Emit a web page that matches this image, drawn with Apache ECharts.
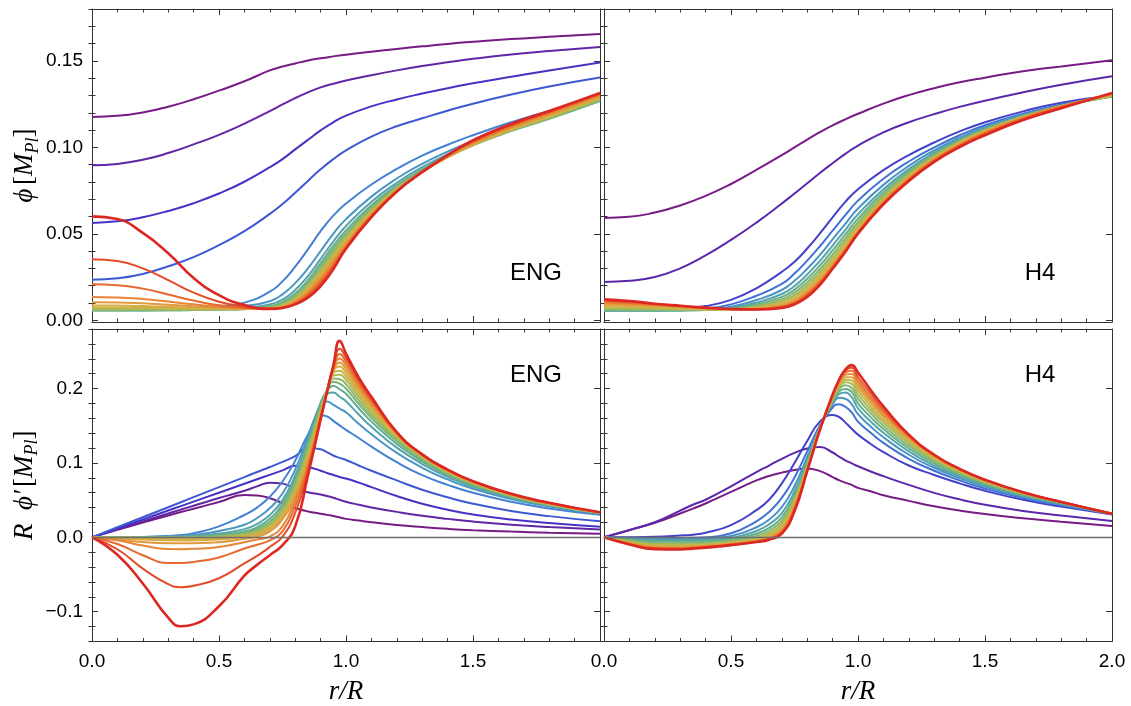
<!DOCTYPE html>
<html>
<head>
<meta charset="utf-8">
<script src="https://cdn.jsdelivr.net/npm/echarts@6/dist/echarts.min.js"></script>
<style>
html,body{margin:0;padding:0;background:#fff}
#c{width:1131px;height:706px}
</style>
</head>
<body>
<div id="c"></div>
<script>
// radial sample points r/R for the field (top) and gradient (bottom) profiles
const rTop = [0, 0.1, 0.2, 0.3, 0.4, 0.5, 0.6, 0.7, 0.75, 0.8, 0.85, 0.9, 0.95, 1.0, 1.1, 1.2, 1.3, 1.4, 1.5, 1.65, 1.8, 2.0];
const rBottom = [0, 0.1, 0.2, 0.3, 0.35, 0.4, 0.5, 0.6, 0.65, 0.7, 0.75, 0.8, 0.85, 0.9, 0.925, 0.95, 0.975, 1.0, 1.05, 1.1, 1.2, 1.3, 1.4, 1.5, 1.65, 1.8, 2.0];

// ENG: phi [M_Pl], one row per profile (purple -> red)
const phiENG = [
  [0.1176, 0.1182, 0.1202, 0.1235, 0.1278, 0.1328, 0.1382, 0.1445, 0.1467, 0.1485, 0.1502, 0.1515, 0.1526, 0.1536, 0.1553, 0.1569, 0.1584, 0.1598, 0.161, 0.1626, 0.1639, 0.1656],
  [0.0896, 0.0904, 0.0928, 0.0967, 0.1017, 0.1072, 0.1137, 0.121, 0.1248, 0.1285, 0.1318, 0.1347, 0.1368, 0.1386, 0.1417, 0.1445, 0.147, 0.1492, 0.1512, 0.1537, 0.1557, 0.158],
  [0.0563, 0.0572, 0.0596, 0.0632, 0.0677, 0.0733, 0.0801, 0.0885, 0.0932, 0.0988, 0.1043, 0.1098, 0.1145, 0.1183, 0.1237, 0.1277, 0.1311, 0.1342, 0.137, 0.1408, 0.1445, 0.149],
  [0.0235, 0.0243, 0.0268, 0.0312, 0.0365, 0.0434, 0.0515, 0.0615, 0.0672, 0.0738, 0.0806, 0.0873, 0.0932, 0.0983, 0.1062, 0.1122, 0.1168, 0.1212, 0.1252, 0.1305, 0.1352, 0.1404],
  [0.0066, 0.0066, 0.0067, 0.0069, 0.0073, 0.0081, 0.0102, 0.0165, 0.0225, 0.031, 0.041, 0.0515, 0.0605, 0.0675, 0.0785, 0.0875, 0.0952, 0.1015, 0.107, 0.1145, 0.121, 0.1285],
  [0.0060, 0.0060, 0.0061, 0.0062, 0.0065, 0.0071, 0.0083, 0.0110, 0.0150, 0.0215, 0.030, 0.040, 0.050, 0.0585, 0.0715, 0.0820, 0.0905, 0.0975, 0.1035, 0.111, 0.1175, 0.1275],
  [0.0058, 0.0058, 0.0058, 0.0059, 0.0061, 0.0065, 0.0073, 0.0092, 0.0120, 0.0175, 0.0255, 0.0355, 0.0455, 0.0545, 0.0685, 0.0795, 0.0885, 0.096, 0.1022, 0.110, 0.1168, 0.127],
  [0.0057, 0.0057, 0.0057, 0.0058, 0.0059, 0.0062, 0.0067, 0.0082, 0.0105, 0.0155, 0.0232, 0.033, 0.043, 0.052, 0.0665, 0.078, 0.0872, 0.095, 0.1015, 0.1095, 0.1165, 0.1268],
  [0.0058, 0.0058, 0.0058, 0.0058, 0.0059, 0.0061, 0.0065, 0.0077, 0.0097, 0.0143, 0.0217, 0.0312, 0.0412, 0.0503, 0.0652, 0.0772, 0.0866, 0.0946, 0.1013, 0.1095, 0.1166, 0.127],
  [0.0061, 0.0061, 0.0061, 0.0061, 0.0061, 0.0062, 0.0064, 0.0074, 0.0091, 0.0134, 0.0205, 0.0298, 0.0397, 0.049, 0.0642, 0.0766, 0.0862, 0.0944, 0.1012, 0.1097, 0.1169, 0.1274],
  [0.0066, 0.0066, 0.0065, 0.0064, 0.0064, 0.0064, 0.0065, 0.0072, 0.0087, 0.0127, 0.0195, 0.0285, 0.0383, 0.0477, 0.0634, 0.076, 0.0859, 0.0943, 0.1013, 0.11, 0.1173, 0.1279],
  [0.0074, 0.0074, 0.0072, 0.007, 0.0068, 0.0066, 0.0066, 0.007, 0.0083, 0.012, 0.0185, 0.0273, 0.037, 0.0465, 0.0626, 0.0756, 0.0857, 0.0943, 0.1015, 0.1103, 0.1178, 0.1284],
  [0.0086, 0.0085, 0.0082, 0.0078, 0.0073, 0.0069, 0.0067, 0.0069, 0.008, 0.0114, 0.0176, 0.0262, 0.0358, 0.0454, 0.0619, 0.0752, 0.0856, 0.0944, 0.1018, 0.1107, 0.1183, 0.129],
  [0.0104, 0.0103, 0.0098, 0.009, 0.0081, 0.0073, 0.0068, 0.0068, 0.0077, 0.0108, 0.0167, 0.025, 0.0345, 0.0443, 0.0613, 0.075, 0.0856, 0.0946, 0.1022, 0.1113, 0.119, 0.1296],
  [0.0134, 0.0132, 0.0123, 0.0108, 0.0092, 0.0078, 0.0069, 0.0067, 0.0075, 0.0103, 0.0158, 0.0237, 0.0331, 0.0432, 0.0607, 0.0748, 0.0856, 0.0949, 0.1027, 0.1119, 0.1196, 0.1302],
  [0.0208, 0.0203, 0.0183, 0.0149, 0.0114, 0.0087, 0.0072, 0.0066, 0.0073, 0.0098, 0.0148, 0.0223, 0.0318, 0.0423, 0.0602, 0.0746, 0.0857, 0.0951, 0.1032, 0.1125, 0.1202, 0.1307],
  [0.0353, 0.0343, 0.030, 0.0232, 0.016, 0.0107, 0.0079, 0.0066, 0.0072, 0.0095, 0.0139, 0.021, 0.0306, 0.0418, 0.0599, 0.0745, 0.0857, 0.0953, 0.1037, 0.113, 0.1206, 0.1311],
  [0.0601, 0.0585, 0.0505, 0.0388, 0.0245, 0.0145, 0.0088, 0.0066, 0.0071, 0.0092, 0.013, 0.0197, 0.0295, 0.0414, 0.0597, 0.0745, 0.0858, 0.0955, 0.1041, 0.1135, 0.121, 0.1315]
];

// ENG: R phi' [M_Pl]
const dphiENG = [
  [0, 0.0100, 0.0198, 0.0293, 0.0340, 0.0385, 0.0475, 0.0568, 0.0562, 0.0525, 0.0460, 0.0395, 0.0348, 0.0318, 0.0302, 0.0287, 0.0267, 0.0248, 0.0225, 0.0203, 0.0166, 0.0138, 0.0114, 0.0096, 0.0077, 0.0063, 0.0049],
  [0, 0.0107, 0.0214, 0.0320, 0.0373, 0.0425, 0.0528, 0.0625, 0.0685, 0.0735, 0.0722, 0.0655, 0.0605, 0.0575, 0.0555, 0.0533, 0.0505, 0.0478, 0.0438, 0.0402, 0.0342, 0.0290, 0.0248, 0.0212, 0.0170, 0.0138, 0.0104],
  [0, 0.012, 0.024, 0.036, 0.042, 0.048, 0.060, 0.072, 0.078, 0.084, 0.090, 0.0962, 0.0945, 0.0895, 0.0865, 0.0838, 0.0812, 0.079, 0.0735, 0.0675, 0.0555, 0.0452, 0.0372, 0.0308, 0.024, 0.0192, 0.0142],
  [0, 0.0135, 0.027, 0.0405, 0.0472, 0.054, 0.0675, 0.081, 0.0878, 0.0945, 0.1015, 0.109, 0.1205, 0.1185, 0.1145, 0.110, 0.1068, 0.104, 0.0965, 0.0895, 0.0765, 0.064, 0.0538, 0.0452, 0.0355, 0.0285, 0.0215],
  [0, 0.0002, 0.0006, 0.0018, 0.003, 0.0055, 0.0148, 0.030, 0.040, 0.0545, 0.075, 0.103, 0.138, 0.164, 0.1625, 0.1565, 0.1505, 0.1445, 0.1335, 0.122, 0.101, 0.0835, 0.0705, 0.0598, 0.0478, 0.0388, 0.0302],
  [0, 0.0001, 0.0004, 0.0011, 0.0018, 0.003, 0.0085, 0.017, 0.026, 0.039, 0.059, 0.091, 0.135, 0.178, 0.1825, 0.178, 0.173, 0.168, 0.1525, 0.1385, 0.1135, 0.0935, 0.0778, 0.0652, 0.0515, 0.0415, 0.0316],
  [0, 0.0001, 0.0003, 0.0007, 0.0011, 0.0018, 0.005, 0.011, 0.018, 0.030, 0.050, 0.083, 0.130, 0.181, 0.193, 0.1945, 0.189, 0.183, 0.165, 0.1485, 0.1205, 0.0985, 0.0812, 0.0678, 0.0532, 0.0426, 0.0321],
  [0, 0, 0.0001, 0.0004, 0.0007, 0.0011, 0.0033, 0.008, 0.0135, 0.025, 0.045, 0.078, 0.126, 0.178, 0.197, 0.2035, 0.199, 0.193, 0.1735, 0.1555, 0.1255, 0.1018, 0.0835, 0.0695, 0.0543, 0.0433, 0.0324],
  [0, 0, 0, 0.0001, 0.0003, 0.0005, 0.002, 0.006, 0.011, 0.021, 0.041, 0.074, 0.122, 0.175, 0.198, 0.209, 0.2065, 0.200, 0.1795, 0.1605, 0.129, 0.1043, 0.0852, 0.0708, 0.0551, 0.0438, 0.0326],
  [0, -0.0002, -0.0003, -0.0003, -0.0002, 0, 0.0012, 0.0045, 0.009, 0.018, 0.037, 0.070, 0.118, 0.172, 0.198, 0.2135, 0.2125, 0.206, 0.1845, 0.1645, 0.1318, 0.1062, 0.0866, 0.0718, 0.0557, 0.0442, 0.0328],
  [0, -0.0004, -0.0008, -0.001, -0.001, -0.0009, 0.0002, 0.003, 0.007, 0.0155, 0.034, 0.066, 0.114, 0.170, 0.1975, 0.2175, 0.2185, 0.2115, 0.189, 0.1685, 0.1343, 0.1077, 0.0877, 0.0726, 0.0562, 0.0446, 0.033],
  [0, -0.0008, -0.0016, -0.0021, -0.0022, -0.0021, -0.0012, 0.002, 0.0055, 0.0135, 0.031, 0.062, 0.110, 0.168, 0.197, 0.221, 0.224, 0.2165, 0.193, 0.172, 0.1362, 0.1088, 0.0886, 0.0732, 0.0567, 0.0449, 0.0331],
  [0, -0.0015, -0.003, -0.004, -0.0042, -0.0041, -0.003, 0.0005, 0.0035, 0.011, 0.028, 0.058, 0.106, 0.166, 0.1965, 0.2235, 0.2295, 0.2215, 0.197, 0.1755, 0.1378, 0.1097, 0.0893, 0.0738, 0.0572, 0.0453, 0.0332],
  [0, -0.003, -0.0062, -0.0079, -0.0081, -0.0079, -0.0065, -0.002, 0.001, 0.008, 0.0245, 0.054, 0.102, 0.164, 0.196, 0.2255, 0.235, 0.2265, 0.2005, 0.1785, 0.1388, 0.1103, 0.0898, 0.0743, 0.0576, 0.0456, 0.0333],
  [0, -0.004, -0.011, -0.0158, -0.016, -0.0155, -0.013, -0.0065, -0.003, 0.001, 0.015, 0.049, 0.097, 0.1625, 0.1955, 0.227, 0.2405, 0.2315, 0.2045, 0.1815, 0.1397, 0.1107, 0.0902, 0.0747, 0.0579, 0.0459, 0.0334],
  [0, -0.009, -0.024, -0.0345, -0.0345, -0.033, -0.027, -0.015, -0.01, -0.004, 0.008, 0.042, 0.092, 0.161, 0.1955, 0.2285, 0.2465, 0.2365, 0.208, 0.184, 0.1403, 0.111, 0.0905, 0.075, 0.0581, 0.0461, 0.0335],
  [0, -0.016, -0.042, -0.063, -0.067, -0.065, -0.055, -0.035, -0.025, -0.013, 0.001, 0.033, 0.088, 0.1595, 0.1952, 0.2298, 0.2535, 0.2415, 0.2115, 0.1865, 0.1408, 0.1112, 0.0907, 0.0752, 0.0583, 0.0463, 0.0335],
  [0, -0.0235, -0.062, -0.108, -0.1195, -0.117, -0.0926, -0.0515, -0.037, -0.024, -0.0105, 0.0148, 0.083, 0.158, 0.195, 0.231, 0.264, 0.247, 0.215, 0.189, 0.1415, 0.1115, 0.091, 0.0755, 0.0585, 0.0465, 0.0336]
];

// H4: phi [M_Pl]
const phiH4 = [
  [0.0592, 0.0598, 0.0623, 0.0664, 0.0719, 0.0788, 0.087, 0.0955, 0.1, 0.1045, 0.1088, 0.1127, 0.1162, 0.1194, 0.1253, 0.1302, 0.1342, 0.1376, 0.1403, 0.144, 0.1468, 0.1503],
  [0.0222, 0.0228, 0.025, 0.030, 0.0375, 0.0465, 0.0565, 0.0675, 0.0733, 0.0792, 0.0852, 0.0908, 0.0962, 0.101, 0.1087, 0.1145, 0.1192, 0.1234, 0.127, 0.1318, 0.1362, 0.1411],
  [0.0062, 0.0062, 0.0063, 0.0068, 0.0082, 0.0118, 0.0185, 0.028, 0.0338, 0.0415, 0.0502, 0.0595, 0.0685, 0.0758, 0.0868, 0.0955, 0.1028, 0.1092, 0.1145, 0.1208, 0.1258, 0.130],
  [0.0058, 0.0058, 0.0058, 0.0061, 0.0069, 0.0092, 0.0142, 0.021, 0.027, 0.0345, 0.0428, 0.0518, 0.0608, 0.0692, 0.0818, 0.0918, 0.1, 0.107, 0.1128, 0.1195, 0.1248, 0.1298],
  [0.0056, 0.0056, 0.0056, 0.0058, 0.0063, 0.0079, 0.0117, 0.0175, 0.0228, 0.0298, 0.0378, 0.0468, 0.0558, 0.0646, 0.0783, 0.0893, 0.0982, 0.1056, 0.1117, 0.1188, 0.1243, 0.1295],
  [0.0056, 0.0056, 0.0056, 0.0057, 0.006, 0.0071, 0.0102, 0.0152, 0.0198, 0.0265, 0.0343, 0.0432, 0.0523, 0.0613, 0.0758, 0.0875, 0.0969, 0.1047, 0.111, 0.1183, 0.124, 0.1294],
  [0.0058, 0.0057, 0.0057, 0.0057, 0.0059, 0.0067, 0.0092, 0.0135, 0.0177, 0.024, 0.0317, 0.0404, 0.0496, 0.0588, 0.074, 0.0862, 0.096, 0.104, 0.1105, 0.118, 0.1238, 0.1294],
  [0.0062, 0.0061, 0.006, 0.0059, 0.0059, 0.0064, 0.0084, 0.0122, 0.016, 0.022, 0.0295, 0.0381, 0.0474, 0.0568, 0.0725, 0.0851, 0.0953, 0.1035, 0.1101, 0.1178, 0.1237, 0.1295],
  [0.0068, 0.0067, 0.0065, 0.0063, 0.0061, 0.0063, 0.0078, 0.0111, 0.0145, 0.0203, 0.0276, 0.0362, 0.0455, 0.0551, 0.0713, 0.0842, 0.0947, 0.1031, 0.1098, 0.1177, 0.1237, 0.1297],
  [0.0076, 0.0074, 0.0071, 0.0067, 0.0063, 0.0063, 0.0074, 0.0101, 0.0132, 0.0188, 0.026, 0.0345, 0.0439, 0.0536, 0.0702, 0.0834, 0.0941, 0.1027, 0.1096, 0.1176, 0.1238, 0.1299],
  [0.0085, 0.0082, 0.0078, 0.0072, 0.0066, 0.0063, 0.007, 0.0092, 0.012, 0.0174, 0.0245, 0.033, 0.0425, 0.0523, 0.0692, 0.0828, 0.0937, 0.1023, 0.1093, 0.1175, 0.1239, 0.1302],
  [0.0095, 0.0091, 0.0085, 0.0077, 0.0069, 0.0064, 0.0067, 0.0085, 0.011, 0.0162, 0.0232, 0.0317, 0.0413, 0.0513, 0.0685, 0.0821, 0.0931, 0.1017, 0.1088, 0.1172, 0.1239, 0.1305],
  [0.0104, 0.0099, 0.0091, 0.0081, 0.0071, 0.0064, 0.0065, 0.0079, 0.0103, 0.0152, 0.0221, 0.0308, 0.0405, 0.0507, 0.0679, 0.0815, 0.0926, 0.1012, 0.1083, 0.1168, 0.1236, 0.1308],
  [0.0113, 0.0106, 0.0094, 0.0083, 0.0072, 0.0065, 0.0063, 0.0075, 0.0097, 0.0143, 0.0213, 0.0302, 0.0399, 0.0503, 0.0674, 0.081, 0.0921, 0.1007, 0.1077, 0.1163, 0.1231, 0.1312],
  [0.0121, 0.0111, 0.0096, 0.0084, 0.0073, 0.0065, 0.0062, 0.0071, 0.0092, 0.0135, 0.0205, 0.0298, 0.0395, 0.0501, 0.067, 0.0805, 0.0916, 0.1002, 0.107, 0.1158, 0.1226, 0.1315]
];

// H4: R phi' [M_Pl]
const dphiH4 = [
  [0, 0.0095, 0.0195, 0.032, 0.0385, 0.0455, 0.061, 0.0765, 0.0825, 0.087, 0.0905, 0.0925, 0.089, 0.081, 0.0768, 0.0735, 0.0705, 0.0665, 0.062, 0.0565, 0.049, 0.0418, 0.036, 0.0313, 0.0257, 0.021, 0.0152],
  [0, 0.01, 0.0202, 0.036, 0.0438, 0.0505, 0.0685, 0.0878, 0.0965, 0.1055, 0.1135, 0.1195, 0.1215, 0.114, 0.1085, 0.1035, 0.0995, 0.0955, 0.0885, 0.0822, 0.0705, 0.0598, 0.051, 0.0438, 0.0355, 0.0292, 0.0218],
  [0, 0.0002, 0.0009, 0.0025, 0.0036, 0.0062, 0.0165, 0.0365, 0.0505, 0.0725, 0.1, 0.1295, 0.1555, 0.1645, 0.162, 0.1545, 0.146, 0.138, 0.1255, 0.1145, 0.0965, 0.0838, 0.0725, 0.0625, 0.0505, 0.0413, 0.0308],
  [0, -0.0004, -0.0008, -0.0008, -0.0006, 0.0, 0.0055, 0.0215, 0.034, 0.053, 0.0805, 0.1155, 0.1505, 0.1745, 0.179, 0.1755, 0.168, 0.1555, 0.1405, 0.127, 0.1055, 0.0895, 0.0765, 0.0655, 0.0528, 0.043, 0.0311],
  [0, -0.0012, -0.0022, -0.0024, -0.0022, -0.0017, 0.0018, 0.0135, 0.024, 0.0405, 0.069, 0.108, 0.149, 0.1785, 0.1875, 0.1862, 0.179, 0.1655, 0.149, 0.1345, 0.111, 0.0935, 0.0795, 0.068, 0.0545, 0.0443, 0.0313],
  [0, -0.0022, -0.004, -0.0042, -0.004, -0.0035, -0.0008, 0.0085, 0.0175, 0.0325, 0.062, 0.1035, 0.148, 0.181, 0.1925, 0.1945, 0.1885, 0.1735, 0.1555, 0.1405, 0.1155, 0.0965, 0.082, 0.0698, 0.0558, 0.0452, 0.0314],
  [0, -0.0034, -0.0058, -0.0061, -0.0058, -0.0052, -0.003, 0.0048, 0.0128, 0.027, 0.057, 0.1, 0.1475, 0.1825, 0.196, 0.1995, 0.1955, 0.18, 0.1615, 0.1455, 0.1195, 0.0995, 0.0842, 0.0715, 0.057, 0.046, 0.0315],
  [0, -0.0046, -0.0076, -0.008, -0.0076, -0.007, -0.0048, 0.002, 0.0092, 0.0225, 0.053, 0.0975, 0.147, 0.184, 0.199, 0.2043, 0.201, 0.1865, 0.167, 0.15, 0.1232, 0.1022, 0.0862, 0.073, 0.058, 0.0467, 0.0316],
  [0, -0.0057, -0.0093, -0.0097, -0.0092, -0.0085, -0.0063, -0.0005, 0.006, 0.0185, 0.0495, 0.0955, 0.1465, 0.1855, 0.2015, 0.2083, 0.2063, 0.192, 0.1718, 0.1542, 0.1265, 0.1045, 0.0878, 0.0742, 0.0588, 0.0471, 0.0316],
  [0, -0.0067, -0.0108, -0.0112, -0.0106, -0.0098, -0.0075, -0.0024, 0.0035, 0.015, 0.0465, 0.0938, 0.146, 0.1865, 0.2035, 0.2118, 0.2108, 0.197, 0.1762, 0.158, 0.1293, 0.1064, 0.0891, 0.0751, 0.0594, 0.0473, 0.0317],
  [0, -0.0075, -0.012, -0.0125, -0.0118, -0.011, -0.0084, -0.0038, 0.0015, 0.0122, 0.044, 0.0922, 0.1456, 0.1875, 0.2055, 0.2152, 0.215, 0.2015, 0.1805, 0.1617, 0.1318, 0.108, 0.0901, 0.0759, 0.0598, 0.0474, 0.0317],
  [0, -0.0082, -0.0132, -0.0137, -0.0129, -0.012, -0.0091, -0.0048, -0.0003, 0.0097, 0.0415, 0.091, 0.1453, 0.1885, 0.2075, 0.2185, 0.2195, 0.206, 0.1845, 0.165, 0.134, 0.1092, 0.0908, 0.0765, 0.0601, 0.0475, 0.0317],
  [0, -0.0087, -0.0142, -0.0147, -0.0138, -0.0127, -0.0097, -0.0055, -0.0016, 0.0078, 0.0395, 0.09, 0.145, 0.1895, 0.2092, 0.2215, 0.2238, 0.2105, 0.1885, 0.1685, 0.1357, 0.1101, 0.0914, 0.0769, 0.0603, 0.0475, 0.0318],
  [0, -0.0091, -0.015, -0.0155, -0.0146, -0.0133, -0.0101, -0.0059, -0.0025, 0.0063, 0.037, 0.0895, 0.1448, 0.1908, 0.2105, 0.2238, 0.2278, 0.2155, 0.193, 0.172, 0.1372, 0.1106, 0.0918, 0.0772, 0.0604, 0.0475, 0.0318],
  [0, -0.0095, -0.0158, -0.0163, -0.0152, -0.0138, -0.0105, -0.0062, -0.0031, 0.005, 0.035, 0.089, 0.1445, 0.192, 0.2115, 0.2255, 0.2315, 0.2215, 0.198, 0.176, 0.138, 0.111, 0.092, 0.0775, 0.0605, 0.0475, 0.0318]
];

// tick values
const xTicks = [0, 0.5, 1.0, 1.5, 2.0];
const yTicksTop = [0, 0.05, 0.10, 0.15];
const yTicksBottom = [-0.1, 0, 0.1, 0.2];
const panelNames = ['ENG', 'H4'];

// rainbow ramp from purple to red
const ramp = [
  [0.00, 120, 28, 133],
  [0.06, 96, 38, 165],
  [0.12, 70, 50, 196],
  [0.18, 62, 90, 212],
  [0.24, 68, 132, 212],
  [0.32, 78, 158, 186],
  [0.42, 100, 174, 140],
  [0.52, 140, 184, 104],
  [0.62, 188, 186, 78],
  [0.72, 222, 168, 64],
  [0.84, 232, 126, 52],
  [0.93, 228, 82, 42],
  [1.00, 220, 40, 34]
];
function rampColor(t) {
  for (let k = 1; k < ramp.length; k++) {
    if (t <= ramp[k][0] + 1e-9) {
      const a = ramp[k - 1], b = ramp[k];
      const f = (t - a[0]) / (b[0] - a[0]);
      const c = [1, 2, 3].map(j => Math.round(a[j] + (b[j] - a[j]) * f));
      return 'rgb(' + c.join(',') + ')';
    }
  }
  return 'rgb(220,40,34)';
}

const FRAME = '#333';
const SANS = '"Liberation Sans", Arial, sans-serif';
const SERIF = '"Liberation Serif", "Times New Roman", serif';
const W = 508, H = 313;

const panels = [
  { left: 92,  top: 9,   rows: phiENG,  r: rTop,    kind: 'phi',  yLabels: true,  xLabels: false, name: panelNames[0], hideMaxX: true },
  { left: 604, top: 9,   rows: phiH4,   r: rTop,    kind: 'phi',  yLabels: false, xLabels: false, name: panelNames[1], hideMaxX: false },
  { left: 92,  top: 329, rows: dphiENG, r: rBottom, kind: 'dphi', yLabels: true,  xLabels: true,  name: panelNames[0], hideMaxX: true },
  { left: 604, top: 329, rows: dphiH4,  r: rBottom, kind: 'dphi', yLabels: false, xLabels: true,  name: panelNames[1], hideMaxX: false }
];

function minorValues(min, max, step, major) {
  const out = [];
  for (let k = Math.ceil(min / step - 1e-9); k * step <= max + 1e-9; k++) {
    const v = +(k * step).toFixed(4);
    if (!major.some(m => Math.abs(m - v) < 1e-9)) out.push(v);
  }
  return out;
}

const grids = [], xAxes = [], yAxes = [], series = [], graphics = [];
const richName = {
  i: { fontFamily: SERIF, fontStyle: 'italic', fontSize: 27, lineHeight: 34, color: '#000' },
  u: { fontFamily: SERIF, fontSize: 27, lineHeight: 34, color: '#000' },
  s: { fontFamily: SERIF, fontStyle: 'italic', fontSize: 18, lineHeight: 18, verticalAlign: 'bottom', color: '#000' }
};

panels.forEach((p, gi) => {
  grids.push({ left: p.left, top: p.top, width: W, height: H, containLabel: false });
  const isPhi = p.kind === 'phi';
  const ymin = isPhi ? -0.001 : -0.14;
  const ymax = isPhi ? 0.18 : 0.28;
  const major = isPhi ? yTicksTop : yTicksBottom;
  const minor = minorValues(ymin, ymax, isPhi ? 0.01 : 0.02, major);
  const fmtY = isPhi ? (v => v.toFixed(2)) : (v => (v < -1e-9 ? '\u2212' : '') + Math.abs(v).toFixed(1));

  // x axes: bottom (labels) and top (ticks only)
  ['bottom', 'top'].forEach(pos => {
    const ax = {
      gridIndex: gi, type: 'value', position: pos, min: xTicks[0], max: xTicks[xTicks.length - 1], interval: xTicks[1] - xTicks[0],
      axisLine: { show: true, onZero: false, lineStyle: { color: FRAME, width: 1 } },
      axisTick: { show: true, inside: true, length: 6, lineStyle: { color: FRAME, width: 1 } },
      minorTick: { show: true, splitNumber: 5, length: 3.5, lineStyle: { color: FRAME, width: 1 } },
      splitLine: { show: false }, minorSplitLine: { show: false },
      axisLabel: {
        show: pos === 'bottom' && p.xLabels, margin: 11, fontSize: 19, fontFamily: SANS, color: '#000',
        formatter: v => (p.hideMaxX && Math.abs(v - 2) < 1e-9) ? '' : v.toFixed(1)
      }
    };
    if (pos === 'bottom' && p.xLabels) {
      ax.name = '{i|r/R}';
      ax.nameLocation = 'middle';
      ax.nameGap = 33;
      ax.nameTextStyle = { rich: richName };
    }
    xAxes.push(ax);
  });

  // y axes: left/right, major ticks (with labels on the left) and minor ticks
  ['left', 'right'].forEach(pos => {
    const ax = {
      gridIndex: gi, type: 'value', position: pos, min: ymin, max: ymax,
      axisLine: { show: true, onZero: false, lineStyle: { color: FRAME, width: 1 } },
      axisTick: { show: true, inside: true, length: 6, customValues: major, lineStyle: { color: FRAME, width: 1 } },
      splitLine: { show: false },
      axisLabel: {
        show: pos === 'left' && p.yLabels, customValues: major, margin: 9, fontSize: 19,
        fontFamily: SANS, color: '#000', formatter: fmtY
      }
    };
    if (pos === 'left' && p.yLabels) {
      ax.name = isPhi ? '{i|\u03D5} {u|[}{i|M}{s|Pl}{u|]}' : '{i|R  \u03D5\u2032} {u|[}{i|M}{s|Pl}{u|]}';
      ax.nameLocation = 'middle';
      ax.nameGap = 49;
      ax.nameRotate = 90;
      ax.nameTextStyle = { rich: richName };
    }
    yAxes.push(ax);
    yAxes.push({
      gridIndex: gi, type: 'value', position: pos, min: ymin, max: ymax,
      axisLine: { show: false },
      axisTick: { show: true, inside: true, length: 3.5, customValues: minor, lineStyle: { color: FRAME, width: 1 } },
      splitLine: { show: false },
      axisLabel: { show: false }
    });
  });

  const xIdx = gi * 2;          // bottom x axis of this grid
  const yIdx = gi * 4;          // left major y axis of this grid
  const n = p.rows.length;
  p.rows.forEach((row, k) => {
    const s = {
      type: 'line', xAxisIndex: xIdx, yAxisIndex: yIdx,
      data: p.r.map((x, j) => [x, row[j]]),
      showSymbol: false, symbol: 'none', smooth: 0.5,
      lineStyle: { width: k === n - 1 ? 2.6 : 2, color: rampColor(k / (n - 1)) },
      silent: true, animation: false, clip: true
    };
    if (!isPhi && k === 0) {
      s.markLine = {
        silent: true, symbol: ['none', 'none'], label: { show: false },
        lineStyle: { color: '#6e6e6e', width: 1.3, type: 'solid' },
        data: [{ yAxis: 0 }], animation: false
      };
    }
    series.push(s);
  });

  graphics.push({
    type: 'text', x: p.left + (p.name === 'ENG' ? 444 : 436), y: p.top + (isPhi ? 264 : 46),
    style: { text: p.name, fill: '#000', font: '24px ' + SANS, align: 'center', verticalAlign: 'middle' },
    z: 100
  });
});

const chart = echarts.init(document.getElementById('c'), null, { renderer: 'canvas' });
chart.setOption({
  backgroundColor: '#fff',
  animation: false,
  grid: grids,
  xAxis: xAxes,
  yAxis: yAxes,
  series: series,
  graphic: graphics
});
</script>
</body>
</html>
